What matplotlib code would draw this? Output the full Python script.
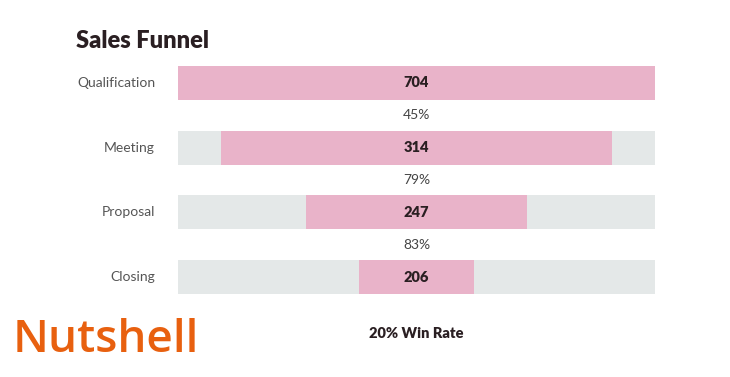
import matplotlib
matplotlib.use("Agg")
import matplotlib.pyplot as plt

stages = ["Qualification", "Meeting", "Proposal", "Closing"]
counts = [704, 314, 247, 206]
conversions = ["45%", "79%", "83%"]
# displayed bar width relative to the full track
shares = [1.0, 0.818, 0.465, 0.243]
win_rate = "20% Win Rate"

pink = "#e9b3c9"
track = "#e4e8e8"
dark = "#2a1f22"
orange = "#e8600f"

plt.rcParams["font.family"] = ["Lato", "DejaVu Sans"]

fig = plt.figure(figsize=(7.3, 3.77), dpi=100)
W, H = 730, 377

# bar area in pixels: x 178..655, y 66..294
ax = fig.add_axes([178 / W, 1 - 294 / H, (655 - 178) / W, (294 - 66) / H])
ax.set_xlim(-0.5, 0.5)
ax.set_ylim(3.2625, -0.2625)
ax.axis("off")

ys = list(range(len(stages)))
ax.barh(ys, [1.0] * len(stages), left=-0.5, height=0.525, color=track, zorder=1)
ax.barh(ys, shares, left=[-s / 2 for s in shares], height=0.525, color=pink, zorder=2)

for y, name, c in zip(ys, stages, counts):
    ax.text(0, y, str(c), ha="center", va="center", fontsize=10.5, fontweight="heavy", color=dark, zorder=3)
    ax.annotate(name, xy=(-0.5, y), xytext=(-23, 0), textcoords="offset pixels",
                ha="right", va="center", fontsize=10, color="#555555")

for i, p in enumerate(conversions):
    ax.text(0, i + 0.5, p, ha="center", va="center", fontsize=10, color="#444444")

fig.text(76 / W, 1 - 41 / H, "Sales Funnel", ha="left", va="center", fontsize=17,
         fontweight="heavy", color=dark)
fig.text(416 / W, 1 - 333 / H, win_rate, ha="center", va="center", fontsize=10.5,
         fontweight="heavy", color=dark)
fig.text(13 / W, 1 - 341 / H, "Nutshell", ha="left", va="center", fontsize=33,
         fontweight="semibold", family=["Open Sans", "DejaVu Sans"], color=orange)

fig.savefig("out.png", dpi=100, facecolor="white")
